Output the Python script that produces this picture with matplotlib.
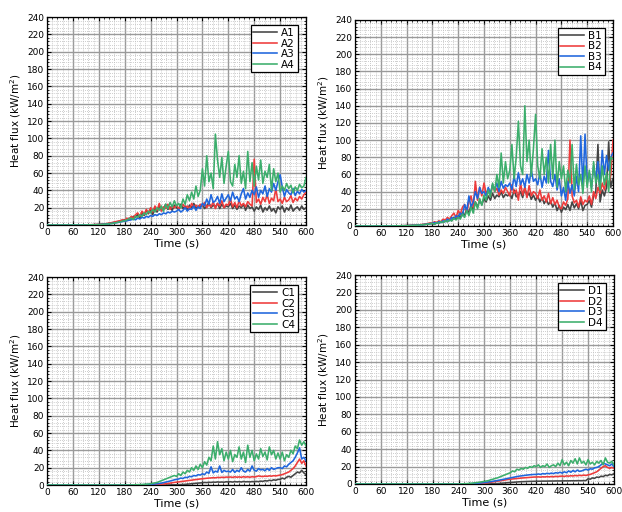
import matplotlib
matplotlib.use('Agg')
import matplotlib.pyplot as plt
import numpy as np
from matplotlib.ticker import MultipleLocator

# Tiempo de registro (s), muestreo cada 5 s
t = np.arange(0, 601, 5)

Z12 = [0] * 12

# Panel A
A1 = (Z12 +
      [0, 0, 0, 0, 0, 0, 0.2, 0.2, 0.3, 0.3, 0.4, 0.5] +
      [0.6, 0.8, 1, 1.2, 1.5, 2, 2.5, 3, 3.5, 4, 5, 5.5] +
      [6, 5, 8, 7, 10, 9, 12, 8, 14, 11, 17, 13] +
      [18, 12, 20, 15, 22, 17, 19, 24, 18, 21, 17, 23] +
      [20, 18, 24, 19, 22, 17, 23, 20, 25, 19, 22, 21] +
      [24, 19, 22, 26, 20, 23, 21, 25, 19, 24, 20, 22] +
      [21, 25, 19, 23, 18, 22, 20, 24, 17, 23, 19, 21] +
      [16, 21, 18, 23, 15, 20, 17, 22, 16, 19, 14, 21] +
      [18, 22, 15, 20, 17, 23, 16, 19, 21, 17, 22, 18] + [20])
A2 = (Z12 +
      [0, 0, 0, 0, 0, 0, 0.2, 0.3, 0.3, 0.4, 0.5, 0.6] +
      [0.7, 0.9, 1.1, 1.4, 1.8, 2.2, 2.8, 3.3, 4, 4.5, 5, 6] +
      [5, 8, 6, 10, 8, 12, 14, 10, 16, 12, 18, 14] +
      [20, 15, 22, 17, 25, 16, 21, 19, 24, 18, 22, 20] +
      [23, 19, 21, 24, 20, 22, 18, 25, 21, 23, 20, 24] +
      [22, 26, 20, 24, 21, 27, 19, 25, 22, 28, 20, 24] +
      [23, 30, 21, 26, 20, 28, 22, 25, 21, 27, 24, 22] +
      [76, 26, 30, 24, 32, 27, 35, 25, 31, 28, 42, 27] +
      [30, 25, 32, 27, 29, 34, 26, 31, 28, 33, 30, 35] + [38])
A3 = (Z12 +
      [0, 0, 0, 0, 0, 0, 0, 0.2, 0.2, 0.3, 0.3, 0.4] +
      [0.5, 0.6, 0.8, 1, 1.2, 1.5, 1.8, 2.2, 2.6, 3, 3.5, 4] +
      [4.5, 5, 5.5, 6, 7, 6, 8, 7, 9, 8, 10, 9] +
      [11, 10, 12, 11, 13, 12, 14, 13, 15, 14, 16, 15] +
      [16, 18, 15, 17, 20, 16, 19, 18, 22, 17, 21, 19] +
      [25, 22, 30, 24, 35, 26, 28, 33, 25, 36, 27, 31] +
      [35, 28, 38, 30, 33, 27, 36, 42, 30, 37, 32, 40] +
      [35, 44, 32, 40, 36, 45, 33, 42, 38, 48, 40, 50] +
      [58, 44, 33, 41, 37, 35, 42, 34, 39, 36, 41, 38] + [40])
A4 = (Z12 +
      [0, 0, 0, 0, 0, 0, 0, 0.2, 0.2, 0.3, 0.3, 0.4] +
      [0.5, 0.6, 0.8, 1, 1.2, 1.5, 1.8, 2.2, 2.7, 3.2, 3.8, 4.5] +
      [5, 6, 7, 8, 6, 10, 9, 12, 10, 14, 12, 16] +
      [14, 18, 15, 20, 17, 22, 16, 24, 19, 26, 21, 28] +
      [22, 25, 20, 30, 24, 35, 28, 38, 30, 45, 33, 40] +
      [65, 45, 80, 50, 60, 42, 105, 75, 55, 78, 48, 68] +
      [85, 50, 45, 70, 55, 80, 48, 62, 42, 85, 50, 72] +
      [45, 68, 52, 75, 48, 62, 55, 70, 40, 65, 50, 60] +
      [38, 45, 40, 48, 42, 46, 37, 44, 40, 47, 43, 45] + [55])

# Panel B
B1 = (Z12 +
      [0, 0, 0, 0, 0, 0, 0.1, 0.1, 0.2, 0.2, 0.3, 0.3] +
      [0.4, 0.5, 0.6, 0.7, 0.8, 1, 1.2, 1.4, 1.6, 2, 2.5, 3] +
      [3, 2, 4, 3, 5, 4, 6, 5, 8, 6, 10, 8] +
      [12, 10, 16, 12, 20, 15, 25, 18, 28, 22, 30, 25] +
      [32, 28, 35, 30, 38, 32, 36, 34, 40, 33, 37, 35] +
      [38, 32, 42, 34, 36, 40, 33, 45, 35, 38, 31, 36] +
      [30, 35, 28, 33, 26, 31, 25, 29, 22, 27, 18, 24] +
      [16, 22, 19, 25, 18, 28, 21, 26, 20, 30, 18, 24] +
      [25, 30, 22, 35, 40, 95, 28, 42, 35, 45, 98, 45] + [55])
B2 = (Z12 +
      [0, 0, 0, 0, 0, 0, 0.1, 0.2, 0.2, 0.3, 0.3, 0.4] +
      [0.5, 0.6, 0.7, 0.8, 1, 1.2, 1.4, 1.7, 2, 2.4, 3, 3.5] +
      [3, 5, 4, 6, 5, 8, 7, 10, 8, 12, 15, 10] +
      [18, 14, 22, 25, 16, 28, 35, 22, 52, 30, 45, 35] +
      [50, 38, 42, 35, 48, 40, 44, 36, 42, 38, 45, 40] +
      [35, 48, 38, 42, 30, 50, 36, 45, 33, 47, 35, 40] +
      [38, 32, 42, 30, 35, 28, 38, 26, 33, 25, 30, 22] +
      [20, 28, 24, 32, 100, 35, 27, 30, 22, 34, 25, 30] +
      [28, 35, 25, 40, 32, 45, 38, 50, 42, 55, 48, 60] + [100])
B3 = (Z12 +
      [0, 0, 0, 0, 0, 0, 0.1, 0.1, 0.2, 0.2, 0.3, 0.3] +
      [0.4, 0.5, 0.6, 0.7, 0.8, 1, 1.2, 1.4, 1.7, 2, 2.4, 2.8] +
      [3, 4, 3, 5, 4, 6, 5, 8, 6, 10, 8, 12] +
      [10, 15, 12, 25, 18, 35, 22, 28, 40, 32, 45, 38] +
      [40, 35, 45, 38, 48, 42, 50, 40, 52, 44, 48, 46] +
      [50, 42, 58, 46, 62, 48, 55, 45, 60, 50, 65, 52] +
      [55, 48, 62, 45, 58, 50, 88, 52, 46, 60, 42, 55] +
      [35, 45, 30, 52, 38, 48, 35, 58, 40, 105, 45, 107] +
      [50, 62, 45, 70, 55, 75, 48, 88, 60, 82, 65, 80] + [85])
B4 = (Z12 +
      [0, 0, 0, 0, 0, 0, 0.1, 0.1, 0.2, 0.2, 0.3, 0.3] +
      [0.4, 0.5, 0.6, 0.7, 0.8, 1, 1.2, 1.4, 1.6, 1.9, 2.2, 2.6] +
      [3, 2, 4, 3, 5, 4, 6, 5, 7, 6, 9, 7] +
      [10, 8, 14, 10, 18, 12, 22, 15, 28, 20, 32, 24] +
      [36, 30, 42, 34, 50, 40, 60, 45, 85, 50, 75, 55] +
      [65, 95, 55, 80, 122, 70, 60, 140, 75, 100, 58, 90] +
      [130, 70, 55, 90, 60, 80, 50, 95, 55, 100, 45, 75] +
      [55, 70, 40, 65, 50, 95, 42, 72, 48, 60, 38, 70] +
      [45, 65, 40, 75, 50, 60, 42, 70, 48, 62, 40, 80] + [78])

# Panel C
C1 = (Z12 * 4 +
      [0, 0, 0, 0, 0, 0, 0, 0, 0.1, 0.1, 0.2, 0.2] +
      [0.3, 0.4, 0.5, 0.6, 0.8, 1, 1.2, 1.5, 1.7, 2, 2.2, 2.4] +
      [2.6, 3, 2.8, 3.2, 3, 3.4, 3.2, 3.6, 3.3, 3.5, 3.2, 3.8] +
      [3.5, 3.8, 3.4, 4, 3.6, 3.9, 3.5, 4.1, 3.7, 3.9, 3.6, 4] +
      [3.8, 4.2, 3.9, 4.5, 4.2, 5, 4.6, 5.5, 5, 6, 5.5, 6.5] +
      [6.5, 8, 7, 9, 10, 9, 11, 13, 15, 14, 17, 14] + [12])
C2 = (Z12 * 3 +
      [0, 0, 0, 0, 0, 0, 0, 0, 0.1, 0.1, 0.2, 0.2] +
      [0.3, 0.4, 0.5, 0.6, 0.8, 1, 1.2, 1.5, 1.8, 2.2, 2.6, 3] +
      [3.3, 3.6, 4, 4.3, 4.6, 5, 5.3, 5.6, 6, 6.3, 6.6, 7] +
      [7.2, 7.5, 7.8, 8, 8.2, 8.5, 8.3, 8.8, 8.6, 9, 8.7, 9.2] +
      [9, 9.3, 8.8, 9.5, 9, 9.4, 8.9, 9.6, 9.1, 9.5, 9, 9.6] +
      [9.3, 9.7, 10.5, 10, 9.8, 10.3, 10, 10.6, 10.2, 10.8, 10.5, 11] +
      [11.5, 12, 13, 14, 15, 17, 19, 22, 26, 30, 25, 28] + [22])
C3 = (Z12 * 3 +
      [0, 0, 0, 0, 0.1, 0.1, 0.2, 0.2, 0.3, 0.4, 0.5, 0.6] +
      [0.8, 1, 1.2, 1.5, 1.8, 2.2, 2.8, 3.4, 4, 4.6, 5.2, 6] +
      [6.5, 7, 8, 7.5, 9, 8.5, 10, 9.5, 11, 10.5, 12, 11.5] +
      [13, 12, 15, 13.5, 21, 14, 16, 15, 22, 14.5, 17, 15.5] +
      [16, 15, 18, 14.5, 17, 15.5, 20, 16, 15, 18, 16, 22] +
      [17, 16, 19, 17.5, 18, 16.5, 19, 17, 20, 18, 19, 20] +
      [20, 19, 22, 21, 24, 26, 28, 32, 37, 43, 30, 32] + [28])
C4 = (Z12 * 3 +
      [0, 0, 0.1, 0.1, 0.2, 0.3, 0.4, 0.5, 0.6, 0.8, 1, 1.2] +
      [1.5, 2, 2.5, 3, 4, 5, 6, 7, 8, 9, 10, 11] +
      [10, 13, 11, 15, 13, 17, 15, 20, 17, 22, 18, 24] +
      [20, 27, 23, 32, 28, 45, 30, 50, 35, 42, 28, 38] +
      [30, 40, 27, 35, 32, 44, 30, 38, 26, 46, 32, 40] +
      [28, 36, 30, 42, 33, 38, 29, 44, 35, 40, 30, 37] +
      [30, 38, 28, 35, 32, 40, 36, 45, 42, 52, 46, 50] + [45])

# Panel D
D1 = (Z12 * 5 +
      [0, 0.1, 0.1, 0.2, 0.3, 0.4, 0.5, 0.7, 0.9, 1.1, 1.3, 1.5] +
      [1.7, 1.9, 2.1, 2.3, 2.5, 2.6, 2.7, 2.8, 2.9, 3, 3, 3.1] +
      [3.1, 3.2, 3.2, 3.3, 3.3, 3.3, 3.4, 3.4, 3.4, 3.5, 3.5, 3.5] +
      [3.5, 3.6, 3.6, 3.6, 3.7, 3.7, 3.7, 3.8, 3.8, 3.8, 3.9, 3.9] +
      [6, 5.5, 7, 6.5, 8, 7.5, 9, 8.5, 10, 9.5, 11, 10.5] + [12])
D2 = (Z12 * 4 +
      [0, 0, 0, 0, 0, 0.1, 0.2, 0.3, 0.4, 0.5, 0.7, 0.9] +
      [1.1, 1.4, 1.7, 2, 2.4, 2.8, 3.2, 3.6, 4, 4.4, 4.8, 5.2] +
      [5.5, 5.8, 6, 6.3, 6.5, 6.8, 7, 7.2, 7.4, 7.6, 7.8, 8] +
      [8, 8.2, 7.9, 8.3, 8.1, 8.5, 8.2, 8.6, 8.3, 8.8, 8.5, 9] +
      [9, 8.7, 9.3, 9, 9.5, 9.2, 9.8, 9.4, 10, 9.6, 10.2, 9.8] +
      [10.5, 11, 12, 13, 14, 16, 18, 20, 21, 19, 18, 19] + [18])
D3 = (Z12 * 4 +
      [0, 0, 0, 0.1, 0.2, 0.3, 0.4, 0.5, 0.7, 0.9, 1.1, 1.4] +
      [1.7, 2, 2.4, 2.8, 3.2, 3.6, 4, 4.5, 5, 5.5, 6, 6.5] +
      [7, 7.5, 8, 8.5, 9, 9.3, 9.6, 10, 10.3, 10.6, 10.8, 11] +
      [11, 11.5, 11, 12, 11.5, 12.3, 11.8, 12.5, 12, 13, 12.5, 13.5] +
      [12.5, 14, 13, 15, 13.5, 15.5, 14, 16, 14.5, 15, 16, 17] +
      [16, 17.5, 17, 18.5, 19, 20, 22, 24, 23, 22, 21, 23] + [20])
D4 = (Z12 * 4 +
      [0, 0.1, 0.2, 0.3, 0.5, 0.7, 0.9, 1.2, 1.5, 1.8, 2.2, 2.6] +
      [3, 3.5, 4, 5, 5.5, 6.5, 7, 8, 9, 10, 11, 12] +
      [13, 15, 14, 17, 16, 18, 17, 19, 18, 20, 19, 21] +
      [20, 22, 19, 21, 20, 23, 19, 21, 22, 20, 24, 21] +
      [28, 22, 25, 21, 27, 24, 29, 23, 30, 24, 26, 22] +
      [28, 23, 25, 22, 26, 24, 27, 22, 30, 25, 24, 26] + [22])

paneles = [
    ('A', [A1, A2, A3, A4], [0.0756, 0.5605, 0.4164, 0.406]),
    ('B', [B1, B2, B3, B4], [0.5707, 0.5586, 0.4148, 0.4025]),
    ('C', [C1, C2, C3, C4], [0.0756, 0.0527, 0.4164, 0.406]),
    ('D', [D1, D2, D3, D4], [0.5707, 0.0547, 0.4164, 0.408]),
]
colores = ['#444444', '#ee3b3b', '#1f66dd', '#3cae6c']

fig = plt.figure(figsize=(6.22, 5.12), dpi=100)

for letra, series, pos in paneles:
    ax = fig.add_axes(pos)
    for i, (y, c) in enumerate(zip(series, colores)):
        ax.plot(t, y, color=c, lw=1.15, label=f'{letra}{i + 1}', zorder=3 + i)

    ax.set_xlim(0, 600)
    ax.set_ylim(0, 240)
    ax.xaxis.set_major_locator(MultipleLocator(60))
    ax.xaxis.set_minor_locator(MultipleLocator(12))
    ax.yaxis.set_major_locator(MultipleLocator(20))
    ax.yaxis.set_minor_locator(MultipleLocator(4))
    ax.grid(True, which='major', color='#9a9a9a', lw=1.0)
    ax.grid(True, which='minor', color='#bdbdbd', lw=0.6, linestyle=(0, (1, 1.5)))
    ax.set_axisbelow(True)
    ax.tick_params(which='both', direction='in', top=True, right=True,
                   labelsize=6.5, pad=2)
    ax.tick_params(which='major', length=3, width=0.8)
    ax.tick_params(which='minor', length=1.5, width=0.6)
    for s in ax.spines.values():
        s.set_linewidth(0.9)
        s.set_color('black')

    ax.set_xlabel('Time (s)', fontsize=8, labelpad=1)
    ax.set_ylabel('Heat flux (kW/m$^2$)', fontsize=7.5, labelpad=3)

    leg = ax.legend(loc='upper right', fontsize=7.5, frameon=True, fancybox=False,
                    handlelength=2.3, handletextpad=0.4, borderpad=0.25,
                    labelspacing=0.05, borderaxespad=0.8)
    leg.get_frame().set_edgecolor('black')
    leg.get_frame().set_linewidth(0.9)
    leg.get_frame().set_alpha(1)

fig.savefig('out.png', dpi=100)
